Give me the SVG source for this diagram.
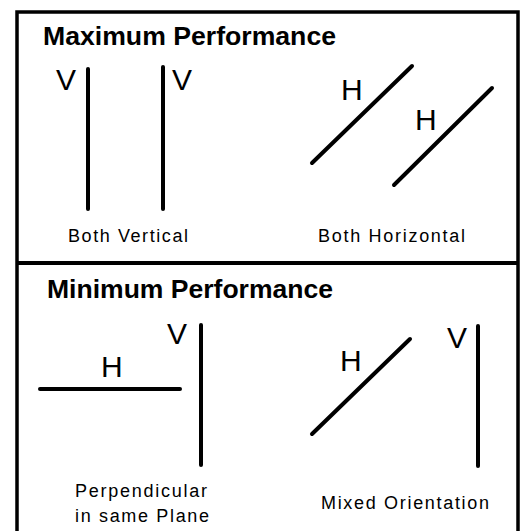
<svg xmlns="http://www.w3.org/2000/svg" width="525" height="531" viewBox="0 0 525 531">
<style>
.frame{fill:none;stroke:#000;stroke-width:3.5}
.ln{stroke:#000;stroke-width:4;stroke-linecap:round;fill:none}
.title{font-family:"Liberation Sans",Arial,sans-serif;font-weight:bold;font-size:26px;fill:#000}
.lbl{font-family:"Liberation Sans",Arial,sans-serif;font-size:30px;fill:#000}
.cap{font-family:"Liberation Sans",Arial,sans-serif;font-size:18px;fill:#000}
</style>
<rect width="525" height="531" fill="#fff"/>
<g id="frame">
<rect class="frame" x="17" y="12" width="501" height="540"/>
<line x1="17" y1="263" x2="518" y2="263" stroke="#000" stroke-width="4"/>
</g>
<g id="max-panel">
<text class="title" x="43" y="45" textLength="293" lengthAdjust="spacingAndGlyphs">Maximum Performance</text>
<g id="both-vertical">
<line class="ln" x1="88" y1="69" x2="88" y2="209"/>
<line class="ln" x1="163" y1="67" x2="163" y2="209"/>
<text class="lbl" x="56" y="90">V</text>
<text class="lbl" x="172" y="90">V</text>
<text class="cap" x="68" y="242" textLength="120" lengthAdjust="spacing">Both Vertical</text>
</g>
<g id="both-horizontal">
<line class="ln" x1="312" y1="163" x2="412" y2="66"/>
<line class="ln" x1="394" y1="185" x2="492" y2="88"/>
<text class="lbl" x="341" y="100">H</text>
<text class="lbl" x="415" y="130">H</text>
<text class="cap" x="318" y="242" textLength="147" lengthAdjust="spacing">Both Horizontal</text>
</g>
</g>
<g id="min-panel">
<text class="title" x="47" y="298" textLength="286" lengthAdjust="spacingAndGlyphs">Minimum Performance</text>
<g id="perpendicular">
<line class="ln" x1="40" y1="389" x2="180" y2="389"/>
<line class="ln" x1="201" y1="325" x2="201" y2="465"/>
<text class="lbl" x="101" y="377">H</text>
<text class="lbl" x="167" y="344">V</text>
<text class="cap" x="75" y="497" textLength="132" lengthAdjust="spacing">Perpendicular</text>
<text class="cap" x="75" y="522" textLength="134" lengthAdjust="spacing">in same Plane</text>
</g>
<g id="mixed">
<line class="ln" x1="312" y1="434" x2="410" y2="339"/>
<line class="ln" x1="478" y1="326" x2="478" y2="466"/>
<text class="lbl" x="340" y="371">H</text>
<text class="lbl" x="447" y="348">V</text>
<text class="cap" x="321" y="509" textLength="168" lengthAdjust="spacing">Mixed Orientation</text>
</g>
</g>
</svg>
